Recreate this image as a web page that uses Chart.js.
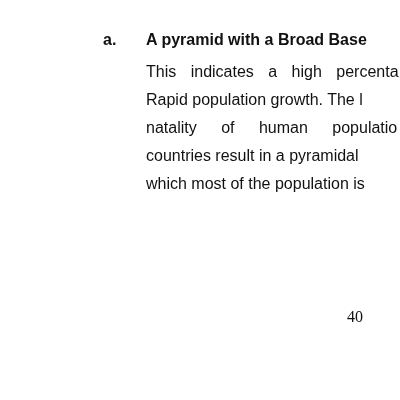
<!DOCTYPE html>
<html><head><meta charset="utf-8">
<script src="https://cdn.jsdelivr.net/npm/chart.js@4"></script>
<style>
html,body{margin:0;width:400px;height:400px;background:#fff;overflow:hidden}
#wrap{position:relative;width:400px;height:400px;font-family:"Liberation Sans",Arial,sans-serif;color:#111;overflow:hidden}
canvas{position:absolute;left:0;top:0}
.t{position:absolute;white-space:nowrap;font-size:16px}
#head{left:103px;top:31px;font-weight:bold}
#pg{left:347px;top:308px;font-family:"Liberation Serif",serif;font-size:16px}
</style></head><body>
<div id="wrap"><canvas id="c" width="400" height="400"></canvas>
<div class="t" id="head"><span style="display:inline-block;width:43px">a.</span>A pyramid with a Broad Base</div>
<div id="body"></div>
<div class="t" id="pg">40</div>
</div>
<script>
// page content (no plotted series in the reference)
const lines = [
  "This indicates a high percenta",
  "Rapid population growth. The l",
  "natality of human populatio",
  "countries result in a pyramidal",
  "which most of the population is"
];
const wordGap = [10, 0, 20, 0, 0];
const body = document.getElementById("body");
lines.forEach((s,i)=>{
  const d = document.createElement("div");
  d.className = "t";
  d.style.left = "146px";
  d.style.top = (63 + i*28) + "px";
  if (wordGap[i]) d.style.wordSpacing = wordGap[i] + "px";
  d.textContent = s;
  body.appendChild(d);
});
new Chart(document.getElementById("c"), {
  type: "scatter",
  data: {datasets: [{data: []}]},
  options: {responsive:false, animation:false,
    plugins:{legend:{display:false}, tooltip:{enabled:false}},
    scales:{x:{display:false}, y:{display:false}}}
});
</script>
</body></html>
